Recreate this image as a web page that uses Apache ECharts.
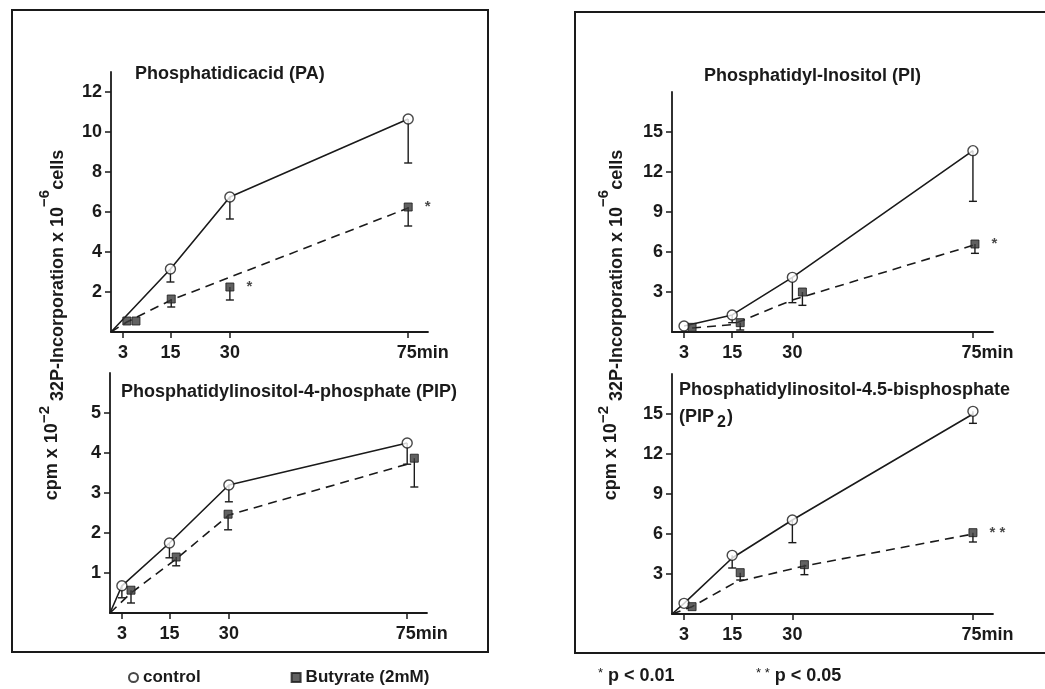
<!DOCTYPE html>
<html>
<head>
<meta charset="utf-8">
<script src="https://cdn.jsdelivr.net/npm/echarts@6/dist/echarts.min.js"></script>
<style>
  html, body { margin: 0; padding: 0; background: #fff; }
  #main { width: 1045px; height: 689px; }
</style>
</head>
<body>
<div id="main"></div>
<script>
// tick positions (minutes) and y tick labels
var minuteTicks = [3, 15, 30, 75];
var paTicks = [2, 4, 6, 8, 10, 12];
var pipTicks = [1, 2, 3, 4, 5];
var piTicks = [3, 6, 9, 12, 15];
var pip2Ticks = [3, 6, 9, 12, 15];

// Phosphatidicacid (PA)
var paCtrlX = [15, 30, 75];
var paCtrlY = [3.15, 6.75, 10.65];
var paCtrlLow = [2.5, 5.65, 8.45];
var paButX = [4, 6.3, 15.2, 30, 75];
var paButY = [0.55, 0.55, 1.65, 2.25, 6.25];
var paButLow = [null, null, 1.25, 1.6, 5.3];
var paButSig = ['', '', '', '*', '*'];
var paCtrlLineX = [0, 15, 30, 75];
var paCtrlLineY = [0, 3.15, 6.75, 10.65];
var paButLineX = [0, 4, 15.2, 75];
var paButLineY = [0, 0.5, 1.6, 6.2];

// Phosphatidylinositol-4-phosphate (PIP)
var pipCtrlX = [3, 15, 30, 75];
var pipCtrlY = [0.68, 1.75, 3.2, 4.25];
var pipCtrlLow = [0.38, 1.38, 2.78, 3.72];
var pipButX = [5.3, 16.7, 29.8, 76.8];
var pipButY = [0.57, 1.4, 2.47, 3.87];
var pipButLow = [0.25, 1.18, 2.08, 3.15];
var pipButSig = ['', '', '', ''];
var pipCtrlLineX = [0, 3, 15, 30, 75];
var pipCtrlLineY = [0, 0.68, 1.75, 3.2, 4.25];
var pipButLineX = [0, 5.3, 16.7, 30, 75];
var pipButLineY = [0, 0.5, 1.35, 2.45, 3.72];

// Phosphatidyl-Inositol (PI)
var piCtrlX = [3, 15, 30, 75];
var piCtrlY = [0.45, 1.28, 4.1, 13.6];
var piCtrlLow = [null, 0.7, 2.2, 9.8];
var piButX = [5, 17, 32.5, 75.5];
var piButY = [0.35, 0.7, 3.0, 6.6];
var piButLow = [null, 0.15, 2.0, 5.9];
var piButSig = ['', '', '', '*'];
var piCtrlLineX = [3, 15, 30, 75];
var piCtrlLineY = [0.45, 1.28, 4.1, 13.6];
var piButLineX = [5, 15, 30, 75];
var piButLineY = [0.3, 0.55, 2.4, 6.5];

// Phosphatidylinositol-4.5-bisphosphate (PIP2)
var pip2CtrlX = [3, 15, 30, 75];
var pip2CtrlY = [0.8, 4.4, 7.05, 15.2];
var pip2CtrlLow = [null, 3.45, 5.35, 14.3];
var pip2ButX = [5, 17, 33, 75];
var pip2ButY = [0.55, 3.1, 3.7, 6.1];
var pip2ButLow = [null, 2.55, 2.95, 5.4];
var pip2ButSig = ['', '', '', '* *'];
var pip2CtrlLineX = [0, 3, 15, 30, 75];
var pip2CtrlLineY = [0, 0.8, 4.2, 7.05, 15.0];
var pip2ButLineX = [0, 5, 16, 33, 75];
var pip2ButLineY = [0, 0.55, 2.4, 3.6, 6.0];

var FONT = 'Liberation Sans';
var INK = '#1a1a1a';
var FS = 18;

function zip(xs, ys) {
  return xs.map(function (x, i) { return [x, ys[i]]; });
}
function zip3(xs, ys, lows) {
  var out = [];
  xs.forEach(function (x, i) {
    if (lows[i] != null) out.push([x, ys[i], lows[i]]);
  });
  return out;
}

function xAxisFor(idx) {
  return {
    type: 'value', gridIndex: idx, min: 0, max: 80,
    axisLine: { lineStyle: { color: INK, width: 1.8 } },
    axisTick: { customValues: minuteTicks, length: 6, lineStyle: { color: INK, width: 1.5 } },
    axisLabel: {
      customValues: minuteTicks, margin: 12, color: INK,
      fontFamily: FONT, fontSize: FS, fontWeight: 'bold',
      formatter: function (v) { return v === 75 ? '{g|}75min' : String(v); },
      rich: { g: { width: 29 } }
    },
    splitLine: { show: false }
  };
}
function yAxisFor(idx, max, ticks) {
  return {
    type: 'value', gridIndex: idx, min: 0, max: max,
    axisLine: { show: true, lineStyle: { color: INK, width: 1.8 } },
    axisTick: { show: true, customValues: ticks, length: 6, lineStyle: { color: INK, width: 1.5 } },
    axisLabel: {
      customValues: ticks, margin: 9, color: INK,
      fontFamily: FONT, fontSize: FS, fontWeight: 'bold'
    },
    splitLine: { show: false }
  };
}

function errorBars(idx, data) {
  return {
    type: 'custom', xAxisIndex: idx, yAxisIndex: idx, z: 1,
    data: data, silent: true,
    renderItem: function (params, api) {
      var top = api.coord([api.value(0), api.value(1)]);
      var bot = api.coord([api.value(0), api.value(2)]);
      var st = { stroke: INK, lineWidth: 1.4 };
      return {
        type: 'group',
        children: [
          { type: 'line', shape: { x1: top[0], y1: top[1], x2: bot[0], y2: bot[1] }, style: st },
          { type: 'line', shape: { x1: bot[0] - 4, y1: bot[1], x2: bot[0] + 4, y2: bot[1] }, style: st }
        ]
      };
    }
  };
}

function panelSeries(idx, p) {
  var butData = p.butX.map(function (x, i) {
    var item = { value: [x, p.butY[i]] };
    if (p.sig[i]) {
      item.label = {
        show: true, formatter: p.sig[i], position: 'right', distance: 12,
        color: INK, fontSize: 15, fontWeight: 'bold', fontFamily: FONT
      };
    }
    return item;
  });
  return [
    {
      type: 'line', xAxisIndex: idx, yAxisIndex: idx, z: 2, silent: true,
      data: zip(p.ctrlLineX, p.ctrlLineY), symbol: 'none',
      lineStyle: { color: INK, width: 1.6 }
    },
    {
      type: 'line', xAxisIndex: idx, yAxisIndex: idx, z: 2, silent: true,
      data: zip(p.butLineX, p.butLineY), symbol: 'none',
      lineStyle: { color: INK, width: 1.6, type: [9, 6] }
    },
    errorBars(idx, zip3(p.ctrlX, p.ctrlY, p.ctrlLow)),
    errorBars(idx, zip3(p.butX, p.butY, p.butLow)),
    {
      name: 'control', type: 'scatter', xAxisIndex: idx, yAxisIndex: idx, z: 4,
      data: zip(p.ctrlX, p.ctrlY), symbol: 'circle', symbolSize: 10,
      itemStyle: { color: '#fff', borderColor: INK, borderWidth: 1.4 }
    },
    {
      name: 'Butyrate (2mM)', type: 'scatter', xAxisIndex: idx, yAxisIndex: idx, z: 4,
      data: butData, symbol: 'rect', symbolSize: 8,
      itemStyle: { color: '#3a3a3a', borderColor: INK, borderWidth: 1 }
    }
  ];
}

var titleStyle = { fontFamily: FONT, fontSize: FS, fontWeight: 'bold', color: INK };

var yLabelText = '{a|cpm x 10}{s|\u22122}{b| 32P-Incorporation x 10}{s|\u22126}{b|cells}';
var yLabelRich = {
  a: { fontFamily: FONT, fontSize: FS, fontWeight: 'bold', lineHeight: 30, verticalAlign: 'middle', fill: INK },
  b: { fontFamily: FONT, fontSize: FS, fontWeight: 'bold', lineHeight: 22, verticalAlign: 'bottom', fill: INK },
  s: { fontFamily: FONT, fontSize: 15, fontWeight: 'bold', lineHeight: 8, verticalAlign: 'top', fill: INK }
};

var chart = echarts.init(document.getElementById('main'), null, { renderer: 'canvas' });

var option = {
  backgroundColor: '#fff',
  animation: false,
  grid: [
    { left: 111, top: 72, width: 317, height: 260 },
    { left: 110, top: 373, width: 317, height: 240 },
    { left: 672, top: 92, width: 321, height: 240 },
    { left: 672, top: 374, width: 321, height: 240 }
  ],
  xAxis: [xAxisFor(0), xAxisFor(1), xAxisFor(2), xAxisFor(3)],
  yAxis: [
    yAxisFor(0, 13, paTicks),
    yAxisFor(1, 6, pipTicks),
    yAxisFor(2, 18, piTicks),
    yAxisFor(3, 18, pip2Ticks)
  ],
  title: [
    { text: 'Phosphatidicacid (PA)', left: 135, top: 65, padding: 0, textStyle: titleStyle },
    { text: 'Phosphatidylinositol-4-phosphate (PIP)', left: 121, top: 383, padding: 0, textStyle: titleStyle },
    { text: 'Phosphatidyl-Inositol (PI)', left: 704, top: 67, padding: 0, textStyle: titleStyle },
    {
      text: '{t|Phosphatidylinositol-4.5-bisphosphate}\n{t|(PIP}{u|2}{t|)}',
      left: 679, top: 377, padding: 0,
      textStyle: {
        rich: {
          t: { fontFamily: FONT, fontSize: FS, fontWeight: 'bold', color: INK, lineHeight: 27, verticalAlign: 'middle' },
          u: { fontFamily: FONT, fontSize: 16, fontWeight: 'bold', color: INK, lineHeight: 18, verticalAlign: 'bottom', padding: [0, 1, 0, 3] }
        }
      }
    }
  ],
  legend: {
    left: 123, top: 664, itemGap: 90, itemWidth: 9, itemHeight: 9,
    data: ['control', 'Butyrate (2mM)'],
    textStyle: { fontFamily: FONT, fontSize: 17, fontWeight: 'bold', color: INK }
  },
  graphic: [
    { type: 'rect', shape: { x: 12, y: 10, width: 476, height: 642 }, style: { fill: 'none', stroke: INK, lineWidth: 2 } },
    { type: 'rect', shape: { x: 575, y: 12, width: 500, height: 641 }, style: { fill: 'none', stroke: INK, lineWidth: 2 } },
    { type: 'text', x: 52, y: 325, rotation: Math.PI / 2,
      style: { text: yLabelText, rich: yLabelRich, align: 'center', verticalAlign: 'middle' } },
    { type: 'text', x: 611, y: 325, rotation: Math.PI / 2,
      style: { text: yLabelText, rich: yLabelRich, align: 'center', verticalAlign: 'middle' } },
    { type: 'text', x: 598, y: 667,
      style: { text: '{s|*} p < 0.01', rich: { s: { fontSize: 13, verticalAlign: 'top', fontFamily: FONT, fill: INK } },
        font: 'bold 18px "Liberation Sans"', fill: INK } },
    { type: 'text', x: 756, y: 667,
      style: { text: '{s|* *} p < 0.05', rich: { s: { fontSize: 13, verticalAlign: 'top', fontFamily: FONT, fill: INK } },
        font: 'bold 18px "Liberation Sans"', fill: INK } }
  ],
  series: [].concat(
    panelSeries(0, { ctrlX: paCtrlX, ctrlY: paCtrlY, ctrlLow: paCtrlLow, butX: paButX, butY: paButY, butLow: paButLow, sig: paButSig,
      ctrlLineX: paCtrlLineX, ctrlLineY: paCtrlLineY, butLineX: paButLineX, butLineY: paButLineY }),
    panelSeries(1, { ctrlX: pipCtrlX, ctrlY: pipCtrlY, ctrlLow: pipCtrlLow, butX: pipButX, butY: pipButY, butLow: pipButLow, sig: pipButSig,
      ctrlLineX: pipCtrlLineX, ctrlLineY: pipCtrlLineY, butLineX: pipButLineX, butLineY: pipButLineY }),
    panelSeries(2, { ctrlX: piCtrlX, ctrlY: piCtrlY, ctrlLow: piCtrlLow, butX: piButX, butY: piButY, butLow: piButLow, sig: piButSig,
      ctrlLineX: piCtrlLineX, ctrlLineY: piCtrlLineY, butLineX: piButLineX, butLineY: piButLineY }),
    panelSeries(3, { ctrlX: pip2CtrlX, ctrlY: pip2CtrlY, ctrlLow: pip2CtrlLow, butX: pip2ButX, butY: pip2ButY, butLow: pip2ButLow, sig: pip2ButSig,
      ctrlLineX: pip2CtrlLineX, ctrlLineY: pip2CtrlLineY, butLineX: pip2ButLineX, butLineY: pip2ButLineY })
  )
};

chart.setOption(option);
</script>
</body>
</html>
